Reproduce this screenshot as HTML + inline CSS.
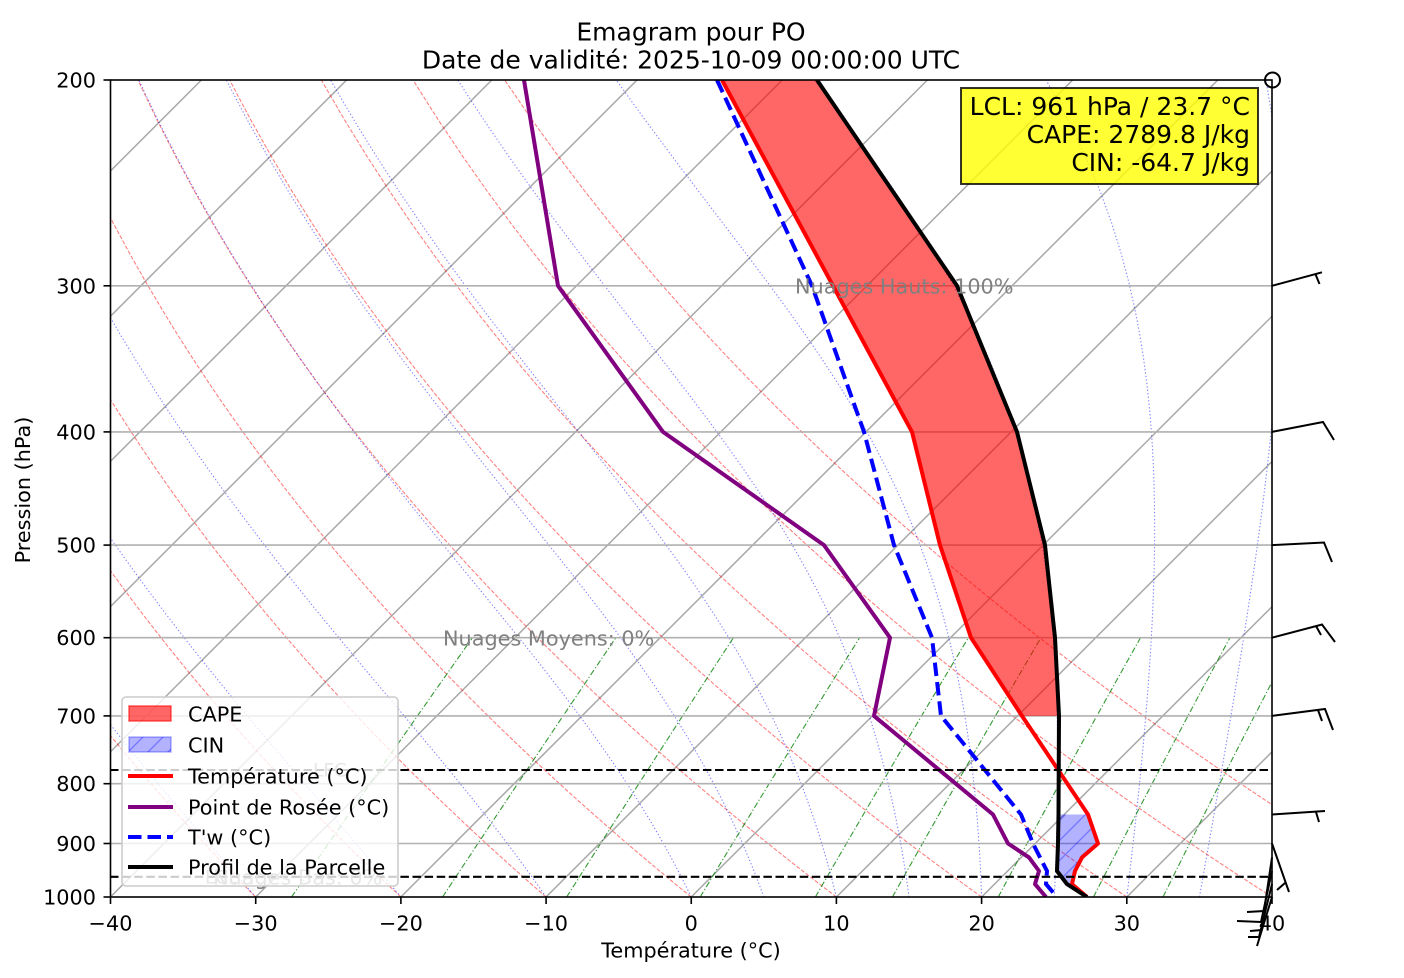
<!DOCTYPE html>
<html><head><meta charset="utf-8">
<style>
html,body{margin:0;padding:0;background:#fff;}
svg{display:block;font-family:"DejaVu Sans","Liberation Sans",sans-serif;}
.iso{stroke:#a8a8a8;stroke-width:1.5;fill:none;}
.hg{stroke:#b0b0b0;stroke-width:1.6;}
.dry{stroke:#ff0000;stroke-opacity:0.5;stroke-width:1.1;fill:none;stroke-dasharray:4,1.8;}
.moist{stroke:#0000ff;stroke-opacity:0.5;stroke-width:1.1;fill:none;stroke-dasharray:1.3,2.2;}
.mix{stroke:#008000;stroke-opacity:0.8;stroke-width:1.1;fill:none;stroke-dasharray:6,2.2,1.2,2.2;}
.tk{font-size:20.8px;fill:#000;}
</style></head><body>
<svg width="1404" height="978" viewBox="0 0 1404 978">
<defs>
<clipPath id="clip"><rect x="110.5" y="80" width="1161.5" height="817"/></clipPath>
<pattern id="hatch" patternUnits="userSpaceOnUse" width="20" height="20">
<path d="M-5,5 L5,-5 M0,20 L20,0 M15,25 L25,15" stroke="#0000ff" stroke-opacity="0.35" stroke-width="1.3"/>
</pattern>
</defs>
<rect width="1404" height="978" fill="#fff"/>

<g clip-path="url(#clip)">
  <g id="bg"></g>
  <line class="hg" x1="110" y1="285.8" x2="1272" y2="285.8"/>
  <line class="hg" x1="110" y1="431.9" x2="1272" y2="431.9"/>
  <line class="hg" x1="110" y1="545.1" x2="1272" y2="545.1"/>
  <line class="hg" x1="110" y1="637.7" x2="1272" y2="637.7"/>
  <line class="hg" x1="110" y1="715.9" x2="1272" y2="715.9"/>
  <line class="hg" x1="110" y1="783.7" x2="1272" y2="783.7"/>
  <line class="hg" x1="110" y1="843.5" x2="1272" y2="843.5"/>

  <!-- CAPE -->
  <polygon points="722,80 833,285.8 912,431.9 940,545.1 971,637.7 1022,715.9 1059,715.9 1055,637.7 1045,545.1 1017,431.9 957,285.8 817,80" fill="#ff0000" fill-opacity="0.6"/>
  <!-- CIN -->
  <polygon points="1058.5,814.5 1058,843.5 1057.5,857.4 1057,871 1067,884.1 1072,884.1 1075,871 1082,857.4 1098,843.5 1088,814.5" fill="#0000ff" fill-opacity="0.3"/>
  <polygon points="1058.5,814.5 1058,843.5 1057.5,857.4 1057,871 1067,884.1 1072,884.1 1075,871 1082,857.4 1098,843.5 1088,814.5" fill="url(#hatch)"/>

  <!-- data -->
  <polyline points="722,80 833,285.8 912,431.9 940,545.1 971,637.7 1022,715.9 1088,814.5 1098,843.5 1082,857.4 1075,871 1072,884.1 1087,897" fill="none" stroke="#ff0000" stroke-width="4" stroke-linejoin="round"/>
  <polyline points="524,80 558,285.8 663,431.9 824,545.1 890,637.7 874,715.9 993,814.5 1008,843.5 1029,857.4 1039,871 1035,884.1 1046,897" fill="none" stroke="#800080" stroke-width="4" stroke-linejoin="round"/>
  <polyline points="717,80 812,285.8 864,431.9 894,545.1 932,637.7 941,715.9 1021,814.5 1033,843.5 1040,857.4 1047,871 1046,884.1 1057,897" fill="none" stroke="#0000ff" stroke-width="4" stroke-dasharray="13.5,6"/>
  <polyline points="817,80 957,285.8 1017,431.9 1045,545.1 1055,637.7 1059,715.9 1058.5,814.5 1058,843.5 1057.5,857.4 1057,871 1067,884.1 1087,897" fill="none" stroke="#000000" stroke-width="4" stroke-linejoin="round"/>

  <!-- LFC / LCL -->
  <line x1="110" y1="770" x2="1272" y2="770" stroke="#000" stroke-width="2.1" stroke-dasharray="8.5,3.6"/>
  <line x1="110" y1="876.8" x2="1272" y2="876.8" stroke="#000" stroke-width="2.1" stroke-dasharray="8.5,3.6"/>

  <!-- texts in plot -->
  <text x="795" y="293.4" font-size="20.8" fill="#808080">Nuages Hauts: 100%</text>
  <text x="443" y="645.3" font-size="20.8" fill="#808080">Nuages Moyens: 0%</text>
  <text x="313" y="776.5" font-size="18.5" fill="#808080">LFC</text>
  <text x="205" y="883.5" font-size="18.5" fill="#808080">LCL</text>
  <text x="213" y="884.3" font-size="20.8" fill="#808080">Nuages Bas: 0%</text>
</g>

<!-- spines -->
<rect x="110.5" y="80" width="1161.5" height="817" fill="none" stroke="#000" stroke-width="1.6"/>

<!-- ticks -->
<g stroke="#000" stroke-width="1.6">
<line x1="103.5" y1="80" x2="110.5" y2="80"/>
<line x1="103.5" y1="285.8" x2="110.5" y2="285.8"/>
<line x1="103.5" y1="431.9" x2="110.5" y2="431.9"/>
<line x1="103.5" y1="545.1" x2="110.5" y2="545.1"/>
<line x1="103.5" y1="637.7" x2="110.5" y2="637.7"/>
<line x1="103.5" y1="715.9" x2="110.5" y2="715.9"/>
<line x1="103.5" y1="783.7" x2="110.5" y2="783.7"/>
<line x1="103.5" y1="843.5" x2="110.5" y2="843.5"/>
<line x1="103.5" y1="897" x2="110.5" y2="897"/>
<line x1="110.5" y1="897" x2="110.5" y2="904"/>
<line x1="255.7" y1="897" x2="255.7" y2="904"/>
<line x1="400.9" y1="897" x2="400.9" y2="904"/>
<line x1="546.1" y1="897" x2="546.1" y2="904"/>
<line x1="691.25" y1="897" x2="691.25" y2="904"/>
<line x1="836.4" y1="897" x2="836.4" y2="904"/>
<line x1="981.6" y1="897" x2="981.6" y2="904"/>
<line x1="1126.8" y1="897" x2="1126.8" y2="904"/>
<line x1="1272" y1="897" x2="1272" y2="904"/>
</g>
<g class="tk" text-anchor="end">
<text x="96" y="87.5">200</text>
<text x="96" y="293.3">300</text>
<text x="96" y="439.4">400</text>
<text x="96" y="552.6">500</text>
<text x="96" y="645.2">600</text>
<text x="96" y="723.4">700</text>
<text x="96" y="791.2">800</text>
<text x="96" y="851">900</text>
<text x="96" y="904.5">1000</text>
</g>
<g class="tk" text-anchor="middle">
<text x="110.5" y="930.5">−40</text>
<text x="255.7" y="930.5">−30</text>
<text x="400.9" y="930.5">−20</text>
<text x="546.1" y="930.5">−10</text>
<text x="691.25" y="930.5">0</text>
<text x="836.4" y="930.5">10</text>
<text x="981.6" y="930.5">20</text>
<text x="1126.8" y="930.5">30</text>
<text x="1272" y="930.5">40</text>
</g>

<!-- axis labels -->
<text x="691" y="957.5" font-size="20.8" text-anchor="middle">Température (°C)</text>
<text transform="translate(30,490) rotate(-90)" font-size="20.8" text-anchor="middle">Pression (hPa)</text>

<!-- title -->
<text x="691" y="40.5" font-size="25" text-anchor="middle">Emagram pour PO</text>
<text x="691" y="68.5" font-size="25" text-anchor="middle">Date de validité: 2025-10-09 00:00:00 UTC</text>

<!-- wind barbs -->
<g stroke="#000" stroke-width="2" fill="none" stroke-linecap="butt" stroke-linejoin="miter">
<circle cx="1272.5" cy="80" r="7.5"/>
<path d="M1272,285.8 L1322,272.3 M1315.5,274.2 L1319.5,284"/>
<path d="M1272,431.9 L1323,422 L1334,440"/>
<path d="M1272,545.1 L1324,542.5 L1332,562"/>
<path d="M1272,637.7 L1322,624.5 L1335,642 M1316,626 L1321,635"/>
<path d="M1272,715.9 L1325,709 L1333,730 M1318,710 L1322,721"/>
<path d="M1272,814.5 L1325,811 M1316,812 L1319,822"/>
<path d="M1272,843.5 L1289,892 M1285,883 L1277,890"/>
<path d="M1272,857.4 L1264,911 L1247,912"/>
<path d="M1272,871 L1261,922 L1237,921"/>
<path d="M1272,884.1 L1259,937 L1248,937"/>
<path d="M1272,897 L1257,946 M1262,930 L1250,931"/>
</g>

<!-- legend -->
<rect x="122" y="697" width="276" height="189" rx="4" ry="4" fill="#ffffff" fill-opacity="0.8" stroke="#cccccc" stroke-width="1.6"/>
<rect x="129" y="706" width="42" height="15" fill="#ff0000" fill-opacity="0.6" stroke="#ff0000" stroke-opacity="0.6" stroke-width="1.5"/>
<rect x="129" y="737" width="42" height="15" fill="#0000ff" fill-opacity="0.3" stroke="#0000ff" stroke-opacity="0.3" stroke-width="1.5"/>
<rect x="129" y="737" width="42" height="15" fill="url(#hatch)"/>
<line x1="128" y1="776" x2="173" y2="776" stroke="#ff0000" stroke-width="4"/>
<line x1="128" y1="807" x2="173" y2="807" stroke="#800080" stroke-width="4"/>
<line x1="128" y1="837" x2="173" y2="837" stroke="#0000ff" stroke-width="4" stroke-dasharray="13.5,6"/>
<line x1="128" y1="867" x2="173" y2="867" stroke="#000000" stroke-width="4"/>
<g font-size="20.8" fill="#000">
<text x="188" y="721.5">CAPE</text>
<text x="188" y="752.5">CIN</text>
<text x="188" y="783.5">Température (°C)</text>
<text x="188" y="814.5">Point de Rosée (°C)</text>
<text x="188" y="844.5">T'w (°C)</text>
<text x="188" y="874.5">Profil de la Parcelle</text>
</g>

<!-- info box -->
<rect x="961" y="88" width="297" height="96" fill="#ffff00" fill-opacity="0.8" stroke="#000" stroke-opacity="0.8" stroke-width="2"/>
<g font-size="25" text-anchor="end" fill="#000">
<text x="1250" y="115">LCL: 961 hPa / 23.7 °C</text>
<text x="1250" y="143">CAPE: 2789.8 J/kg</text>
<text x="1250" y="171">CIN: -64.7 J/kg</text>
</g>
</svg>
<script>
(function(){
var F=817/Math.log(5);
function Y(p){return 897-Math.log(1000/p)*F;}
function X(T,p){return 691.25+14.52*T+(897-Y(p));}
function pl(arr,cls){return '<polyline class="'+cls+'" points="'+arr.map(function(q){return q[0].toFixed(2)+','+q[1].toFixed(2);}).join(' ')+'"/>';}
var s='';
for(var T=-140;T<=40;T+=10){s+='<line class="iso" x1="'+X(T,1000).toFixed(2)+'" y1="897" x2="'+X(T,200).toFixed(2)+'" y2="80"/>';}
var P=[];for(var i=0;i<50;i++)P.push(1000-800*i/49);
for(var t0=-40;t0<=50;t0+=10){var th=t0+273.15;s+=pl(P.map(function(p){return [X(th*Math.pow(p/1000,0.28571)-273.15,p),Y(p)];}),'dry');}
var Rd=287.04749,Cp=1004.6662,Lv=2.50084e6,eps=0.6219569;
function es(T){return 6.112*Math.exp(17.67*(T-273.15)/(T-29.65));}
function dTdp(p,T){var e=es(T);var rs=eps*e/(p-e);return (Rd*T+Lv*rs)/(Cp+Lv*Lv*rs*eps/(Rd*T*T))/p;}
[-40,-30,-20,-10,0,5,10,15,20,25,30,35,40].forEach(function(t0){
  var T=t0+273.15,p=1000,pts=[[X(t0,1000),897]];
  for(var i=1;i<50;i++){var p2=P[i],n=12,h=(p2-p)/n;
    for(var k=0;k<n;k++){var k1=dTdp(p,T),k2=dTdp(p+h/2,T+h/2*k1),k3=dTdp(p+h/2,T+h/2*k2),k4=dTdp(p+h,T+h*k3);T+=h/6*(k1+2*k2+2*k3+k4);p+=h;}
    p=p2;pts.push([X(T-273.15,p2),Y(p2)]);}
  s+=pl(pts,'moist');
});
var PM=[];for(var i=0;i<50;i++)PM.push(1000-400*i/49);
[0.0004,0.001,0.002,0.004,0.007,0.01,0.016,0.024,0.032].forEach(function(w){
  s+=pl(PM.map(function(p){var e=p*w/(eps+w);var v=Math.log(e/6.112);var td=243.5*v/(17.67-v);return [X(td,p),Y(p)];}),'mix');
});
document.getElementById('bg').innerHTML=s;
})();
</script>
</body></html>
